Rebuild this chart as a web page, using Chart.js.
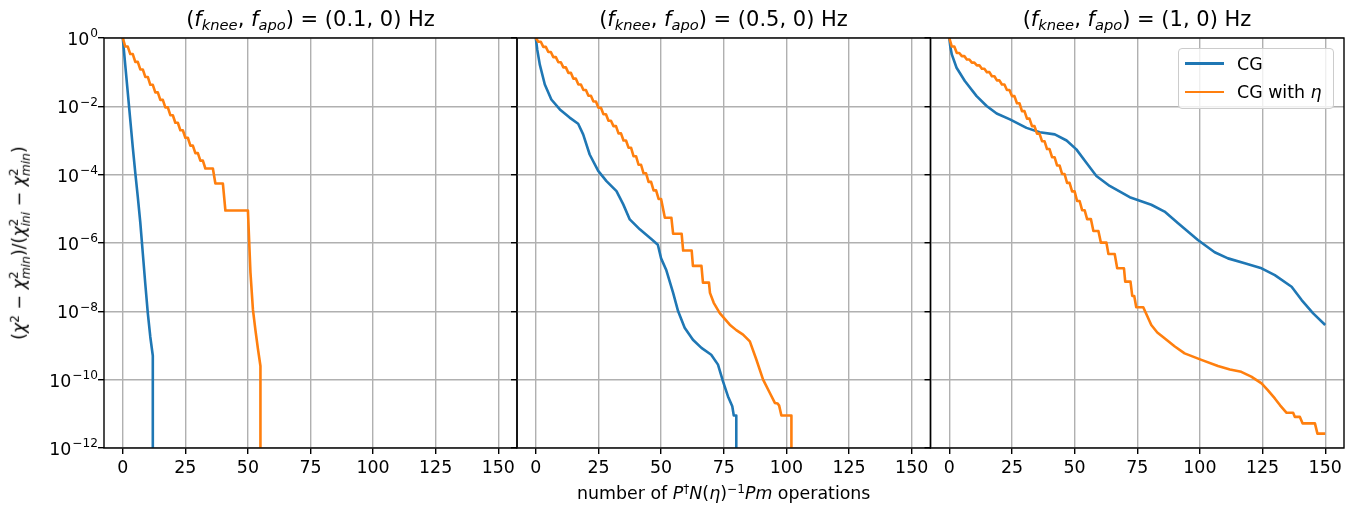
<!DOCTYPE html>
<html>
<head>
<meta charset="utf-8">
<script src="https://cdn.jsdelivr.net/npm/chart.js@4.4.0/dist/chart.umd.min.js"></script>
<style>
html,body{margin:0;padding:0;background:#fff;}
body{width:1354px;height:508px;position:relative;overflow:hidden;font-family:'DejaVu Sans',sans-serif;color:#000;}
canvas{position:absolute;top:0;}
.title{position:absolute;top:9px;font-size:21px;line-height:1;text-align:center;white-space:nowrap;width:413px;}
sub,sup{font-size:0.7em;line-height:0;}
sub{vertical-align:-0.25em;}
sup{vertical-align:0.5em;}
.ss{display:inline-block;font-size:0.7em;line-height:1;vertical-align:-0.45em;text-align:left;}
.ss span{display:block;}
#ylab{position:absolute;left:20px;top:243px;font-size:17.4px;line-height:1;white-space:nowrap;transform:translate(-50%,-50%) rotate(-90deg);}
#xlab{position:absolute;left:723.75px;top:485px;font-size:17.4px;line-height:1;white-space:nowrap;transform:translateX(-50%);}
#legend{position:absolute;left:1178px;top:48px;width:156px;height:61px;box-sizing:border-box;border:1.4px solid #cccccc;border-radius:4px;background:rgba(255,255,255,0.8);z-index:5;}
.lline{position:absolute;left:6px;width:39px;height:2.6px;}
.ltxt{position:absolute;left:58px;font-size:17.4px;line-height:1;white-space:nowrap;}
.ytl{position:absolute;left:0;width:98px;text-align:right;font-size:17.4px;line-height:1;white-space:nowrap;}
.ytl sup{font-size:0.7em;vertical-align:0.62em;line-height:0;padding-left:1px;}
</style>
</head>
<body>
<canvas id="c1" width="524" height="508" style="left:0px"></canvas>
<canvas id="c2" width="430" height="508" style="left:507px"></canvas>
<canvas id="c3" width="434" height="508" style="left:920px"></canvas>
<div id="t1" class="title" style="left:104px"></div>
<div id="t2" class="title" style="left:517px"></div>
<div id="t3" class="title" style="left:930.5px"></div>
<div id="ylab">(<i>χ</i><sup>2</sup> − <i>χ</i><span class="ss"><span>2</span><span><i>min</i></span></span>)/(<i>χ</i><span class="ss"><span>2</span><span><i>ini</i></span></span> − <i>χ</i><span class="ss"><span>2</span><span><i>min</i></span></span>)</div>
<div id="xlab">number of <i>P</i><sup>†</sup><i>N</i>(<i>η</i>)<sup>−1</sup><i>Pm</i> operations</div>
<div id="legend">
  <div class="lline" style="top:13px;background:#1f77b4"></div>
  <div class="ltxt" id="lt1" style="top:6.5px"></div>
  <div class="lline" style="top:41.5px;background:#ff7f0e"></div>
  <div class="ltxt" id="lt2" style="top:34.5px"></div>
</div>
<div id="yticklabels"></div>
<script>
// ---- data (y values stored as log10 of the plotted quantity) ----
const fKnee = [0.1, 0.5, 1];
const fApo = [0, 0, 0];
const seriesLabels = ['CG', 'CG with η'];
const seriesColors = ['#1f77b4', '#ff7f0e'];
const xTicks = [0, 25, 50, 75, 100, 125, 150];
const yTicks = [1, 1e-2, 1e-4, 1e-6, 1e-8, 1e-10, 1e-12];

// panel 1: (0.1, 0) Hz
const p1_cg_x = [0,1,2,3,4,5,6,7,8,9,10,11,12,12];
const p1_cg_log10 = [0,-0.8,-1.6,-2.4,-3.2,-3.95,-4.65,-5.4,-6.3,-7.2,-8.05,-8.75,-9.3,-30];
const p1_eta_x = [0,1,2,3,4,5,6,7,8,9,10,11,12,13,14,15,16,17,18,19,20,21,22,23,24,25,26,27,28,29,30,31,32,33,36,37,40,41,50,51,52,53,54,55,55];
const p1_eta_log10 = [0,-0.25,-0.25,-0.47,-0.47,-0.70,-0.70,-0.92,-0.92,-1.14,-1.14,-1.37,-1.37,-1.59,-1.59,-1.81,-1.81,-2.03,-2.03,-2.26,-2.26,-2.48,-2.48,-2.70,-2.70,-2.92,-2.92,-3.15,-3.15,-3.37,-3.37,-3.59,-3.59,-3.82,-3.82,-4.26,-4.26,-5.05,-5.05,-6.85,-7.95,-8.55,-9.1,-9.6,-30];

// panel 2: (0.5, 0) Hz
const p2_cg_x = [0,0.6,1.6,3.6,6.2,9.6,13.5,16.9,18.9,21.5,24.9,28.2,32.2,34.9,37.5,41.5,46.2,48.7,50,52.1,54.8,56.8,59.4,62.7,66.1,70,72.7,74.7,76.7,78.4,79,80,80];
const p2_cg_log10 = [0,-0.35,-0.78,-1.36,-1.8,-2.09,-2.33,-2.51,-2.82,-3.41,-3.89,-4.19,-4.48,-4.87,-5.31,-5.6,-5.89,-6.05,-6.45,-6.8,-7.46,-8.0,-8.48,-8.83,-9.07,-9.27,-9.56,-10.05,-10.49,-10.78,-11.05,-11.05,-30];
const p2_eta_x = [0,1,2,3,4,5,6,7,8,9,10,11,12,13,14,15,16,17,18,19,20,21,22,23,24,25,26,27,28,29,30,31,32,33,34,35,36,37,38,39,40,41,42,43,44,45,46,47,48,49,50,
  51.5,54.1,54.8,58.2,58.8,62.2,62.7,66.1,66.7,69.1,69.5,71,73.4,77.4,80,82.7,85.4,88,90.7,93.4,95.4,96.5,97.1,98,102,102];
const p2_eta_log10 = [0,-0.11,-0.11,-0.26,-0.26,-0.41,-0.41,-0.56,-0.56,-0.71,-0.71,-0.86,-0.86,-1.02,-1.02,-1.19,-1.19,-1.36,-1.36,-1.52,-1.52,-1.69,-1.69,-1.86,-1.86,-2.04,-2.04,-2.23,-2.23,-2.42,-2.42,-2.58,-2.58,-2.79,-2.79,-3.0,-3.0,-3.21,-3.21,-3.46,-3.46,-3.71,-3.71,-3.96,-3.96,-4.21,-4.21,-4.46,-4.46,-4.71,-4.71,
  -5.26,-5.26,-5.73,-5.73,-6.22,-6.22,-6.67,-6.67,-7.16,-7.16,-7.46,-7.75,-8.05,-8.39,-8.55,-8.68,-8.88,-9.41,-10.0,-10.39,-10.68,-10.7,-10.76,-11.05,-11.05,-30];

// panel 3: (1, 0) Hz
const p3_cg_x = [0,0.4,1,2.9,6.2,10.9,14.9,18.9,24.2,30.8,36.1,42.1,46.8,50.7,54.7,58.7,64,72,80.6,85.9,91.3,99.2,105.9,111.2,117.9,124.6,129.9,136.6,140.6,145.2,150];
const p3_cg_log10 = [0,-0.25,-0.48,-0.87,-1.26,-1.7,-1.99,-2.21,-2.38,-2.63,-2.76,-2.82,-3.0,-3.26,-3.65,-4.04,-4.33,-4.66,-4.88,-5.08,-5.42,-5.91,-6.27,-6.45,-6.59,-6.74,-6.94,-7.28,-7.67,-8.06,-8.4];
const p3_eta_x = [0,1,2,3,4,5,6,7,8,9,10,11,12,13,14,15,16,17,18,19,20,21,22,23,24,25,26,27,28,29,30,31,32,33,34,35,36,37,38,39,40,41,42,43,44,45,46,47,48,49,50,51,52,53,54,
  55,56.5,57.5,59.5,60.5,62.7,63.5,66,67,69.7,70.2,72.3,73,73.8,74.6,77.4,80.6,83,85.9,90,93.9,100.6,107.2,112,116.5,120.5,124.6,127,129.9,132,134.6,137.2,137.9,139.9,141,145.9,146.9,150];
const p3_eta_log10 = [0,-0.25,-0.25,-0.44,-0.44,-0.53,-0.53,-0.63,-0.63,-0.72,-0.72,-0.8,-0.8,-0.9,-0.9,-1.0,-1.0,-1.12,-1.12,-1.24,-1.24,-1.36,-1.36,-1.52,-1.52,-1.7,-1.7,-1.91,-1.91,-2.14,-2.14,-2.36,-2.36,-2.58,-2.58,-2.8,-2.8,-3.02,-3.02,-3.25,-3.25,-3.49,-3.49,-3.73,-3.73,-3.98,-3.98,-4.24,-4.24,-4.49,-4.49,-4.77,-4.77,-5.04,-5.04,
  -5.3,-5.3,-5.65,-5.65,-5.99,-5.99,-6.32,-6.32,-6.74,-6.74,-7.13,-7.13,-7.55,-7.55,-7.88,-7.88,-8.4,-8.62,-8.79,-9.03,-9.23,-9.42,-9.6,-9.7,-9.77,-9.91,-10.11,-10.3,-10.55,-10.75,-10.97,-10.97,-11.09,-11.09,-11.28,-11.28,-11.58,-11.58];

// ---- text ----
for (let i = 0; i < 3; i++) {
  document.getElementById('t' + (i + 1)).innerHTML =
    '(<i>f</i><sub><i>knee</i></sub>, <i>f</i><sub><i>apo</i></sub>) = (' + fKnee[i] + ', ' + fApo[i] + ') Hz';
}
document.getElementById('lt1').innerHTML = seriesLabels[0];
document.getElementById('lt2').innerHTML = seriesLabels[1].replace('η', '<i>η</i>');

function expOf(v) { return Math.round(Math.log10(v)); }
function pts(xs, logs) {
  return xs.map((x, i) => ({x: x, y: Math.pow(10, logs[i])}));
}

const framePlugin = {
  id: 'frame',
  afterDatasetsDraw(chart) {
    const a = chart.chartArea, ctx = chart.ctx;
    ctx.save();
    ctx.strokeStyle = '#000';
    ctx.lineWidth = 1.4;
    ctx.strokeRect(a.left, a.top, a.right - a.left, a.bottom - a.top);
    ctx.restore();
  }
};

Chart.defaults.font.family = "'DejaVu Sans', sans-serif";
Chart.defaults.color = '#000';

function makeChart(id, cgX, cgL, etaX, etaL, yWidth, padRight) {
  const gridOpts = {color: '#b0b0b0', lineWidth: 1.4, drawTicks: true, tickLength: 6, tickColor: '#000', tickWidth: 1.4};
  return new Chart(document.getElementById(id), {
    type: 'line',
    data: {
      datasets: [
        {label: seriesLabels[0], data: pts(cgX, cgL), borderColor: seriesColors[0], order: 1},
        {label: seriesLabels[1], data: pts(etaX, etaL), borderColor: seriesColors[1], order: 0}
      ]
    },
    options: {
      responsive: false,
      animation: false,
      devicePixelRatio: 1,
      layout: {padding: {left: 0, right: padRight, top: 38, bottom: 0}},
      plugins: {legend: {display: false}, tooltip: {enabled: false}},
      elements: {
        point: {radius: 0},
        line: {borderWidth: 2.6, tension: 0, borderJoinStyle: 'round', borderCapStyle: 'butt', fill: false}
      },
      datasets: {line: {clip: 0}},
      scales: {
        x: {
          type: 'linear', min: -7.5, max: 157.5,
          afterBuildTicks: s => { s.ticks = xTicks.map(v => ({value: v})); },
          afterFit: s => { s.height = 60; },
          grid: gridOpts,
          border: {display: false},
          ticks: {font: {size: 17.4}, padding: 4, maxRotation: 0, autoSkip: false, color: '#000'}
        },
        y: {
          type: 'logarithmic', min: 1e-12, max: 1,
          afterBuildTicks: s => { s.ticks = yTicks.map(v => ({value: v})); },
          afterFit: s => { s.width = yWidth; },
          grid: gridOpts,
          border: {display: false},
          ticks: {display: false, autoSkip: false}
        }
      }
    },
    plugins: [framePlugin]
  });
}

const chart1 = makeChart('c1', p1_cg_x, p1_cg_log10, p1_eta_x, p1_eta_log10, 104, 7);
makeChart('c2', p2_cg_x, p2_cg_log10, p2_eta_x, p2_eta_log10, 10, 6.5);
makeChart('c3', p3_cg_x, p3_cg_log10, p3_eta_x, p3_eta_log10, 10.5, 10);

// y tick labels (10^n with a mathtext-like superscript), placed with the chart's own y scale
const yScale = chart1.scales.y;
const holder = document.getElementById('yticklabels');
yTicks.forEach(v => {
  const py = yScale.getPixelForValue(v);
  const e = expOf(v);
  const d = document.createElement('div');
  d.className = 'ytl';
  d.style.top = (py - 7.1) + 'px';
  d.innerHTML = '10<sup>' + (e < 0 ? '−' + (-e) : String(e)) + '</sup>';
  holder.appendChild(d);
});
</script>
</body>
</html>
